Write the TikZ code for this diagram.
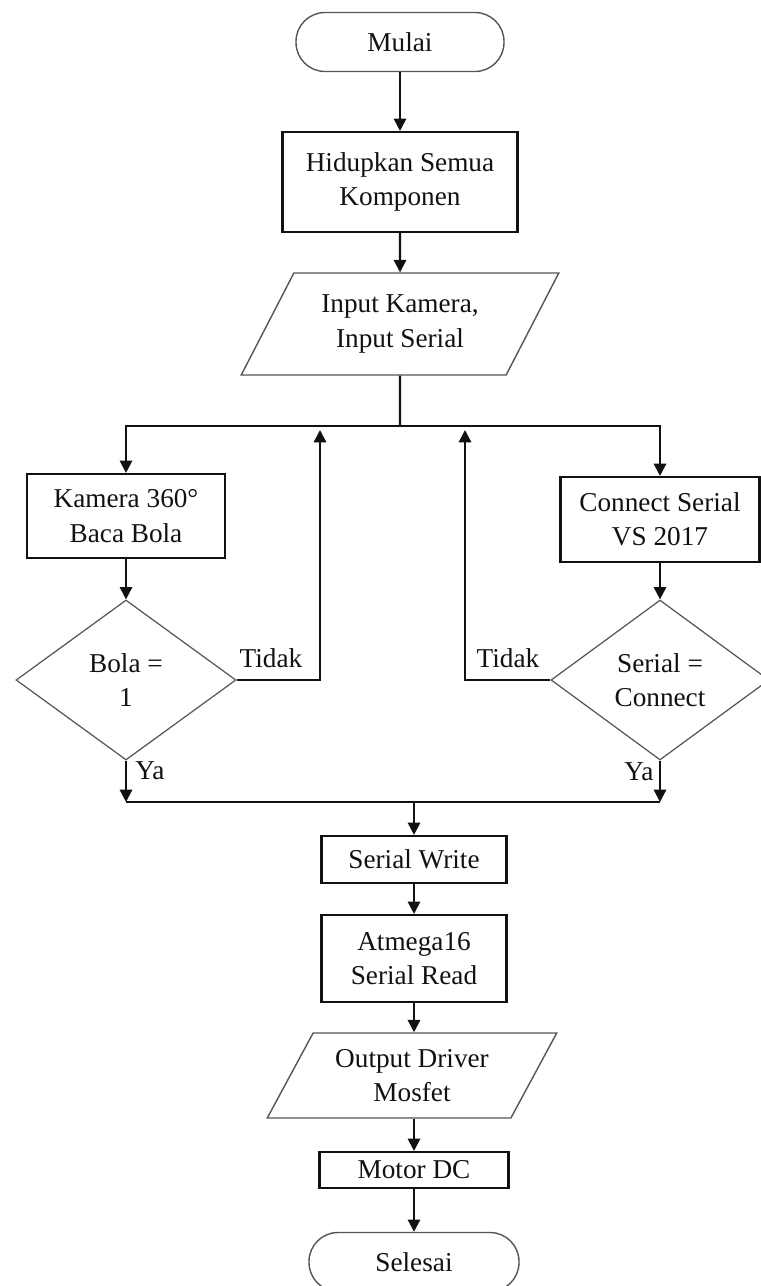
\documentclass[tikz,border=0pt]{standalone}
\usepackage{fontspec}
\setmainfont{Liberation Serif}
\usetikzlibrary{arrows.meta,positioning,shapes.geometric}
\definecolor{ink}{HTML}{111111}
\definecolor{edgegray}{HTML}{555555}
\tikzset{
  flowtext/.style={font=\fontsize{15.5}{19.5}\selectfont,text=ink,align=center},
  terminal/.style={flowtext,rectangle,rounded corners=0.58cm,draw=edgegray,line width=0.8pt,minimum width=4.16cm,minimum height=1.18cm},
  procbox/.style={flowtext,rectangle,draw=ink,line width=1.2pt,inner sep=3pt},
  iobox/.style={flowtext,trapezium,trapezium left angle=57,trapezium right angle=123,trapezium stretches=true,draw=edgegray,line width=0.8pt,inner sep=1pt},
  decision/.style={flowtext,diamond,draw=edgegray,line width=0.7pt,inner sep=0pt},
  arrow/.style={-{Triangle[length=7pt,width=7pt]},line width=1.2pt,ink},
  plain/.style={line width=1.2pt,ink},
  branchnote/.style={flowtext,inner sep=1pt}
}

\begin{document}
\begin{tikzpicture}
    \useasboundingbox (0,0) rectangle (15.2,-25.72);

    \node[terminal] (mulai) at (8.0,-0.84) {Mulai};
    \node[procbox,minimum width=4.7cm,minimum height=2.0cm] (hidup) at (8.0,-3.64) {Hidupkan Semua\\Komponen};
    \node[iobox,minimum width=6.36cm,minimum height=2.04cm] (input) at (8.0,-6.48) {Input Kamera,\\Input Serial};

    \node[procbox,minimum width=3.96cm,minimum height=1.68cm] (kamera) at (2.52,-10.32) {Kamera 360°\\Baca Bola};
    \node[decision,minimum width=4.4cm,minimum height=3.2cm] (bola) at (2.52,-13.6) {Bola =\\1};
    \node[procbox,minimum width=3.98cm,minimum height=1.7cm] (connect) at (13.2,-10.39) {Connect Serial\\VS 2017};
    \node[decision,minimum width=4.36cm,minimum height=3.2cm] (serial) at (13.2,-13.6) {Serial =\\Connect};

    \node[branchnote] (tidakL) at (5.42,-13.16) {Tidak};
    \node[branchnote] (tidakR) at (10.16,-13.16) {Tidak};
    \node[branchnote] (yaL) at (3.0,-15.42) {Ya};
    \node[branchnote] (yaR) at (12.78,-15.44) {Ya};

    \node[procbox,minimum width=3.7cm,minimum height=0.94cm] (write) at (8.28,-17.19) {Serial Write};
    \node[procbox,minimum width=3.7cm,minimum height=1.74cm] (atmega) at (8.28,-19.17) {Atmega16\\Serial Read};
    \node[iobox,minimum width=5.8cm,minimum height=1.7cm] (output) at (8.24,-21.51) {Output Driver\\Mosfet};
    \node[procbox,minimum width=3.78cm,minimum height=0.72cm] (motor) at (8.28,-23.4) {Motor DC};
    \node[terminal,minimum width=4.2cm] (selesai) at (8.28,-25.24) {Selesai};

    \coordinate (split) at (8.0,-8.52);
    \coordinate (backL) at (6.4,-8.6);
    \coordinate (backR) at (9.3,-8.6);
    \coordinate (mergeL) at (2.52,-16.04);
    \coordinate (mergeR) at (13.2,-16.04);
    \coordinate (merge) at (8.28,-16.04);

    \draw[arrow] (mulai) -- (hidup);
    \draw[arrow] (hidup) -- (input);
    \draw[plain] (input.south) -- (split);
    \draw[arrow] (split) -| (kamera.north);
    \draw[arrow] (split) -| (connect.north);
    \draw[arrow] (kamera) -- (bola);
    \draw[arrow] (connect) -- (serial);
    \draw[arrow] (bola.east) -| (backL);
    \draw[arrow] (serial.west) -| (backR);
    \draw[arrow] (bola.south) -- (mergeL);
    \draw[arrow] (serial.south) -- (mergeR);
    \draw[plain] (mergeL) -- (mergeR);
    \draw[arrow] (merge) -- (write);
    \draw[arrow] (write) -- (atmega);
    \draw[arrow] (atmega) -- (output.north -| atmega);
    \draw[arrow] (output.south -| motor) -- (motor);
    \draw[arrow] (motor) -- (selesai);
  \end{tikzpicture}
\end{document}
